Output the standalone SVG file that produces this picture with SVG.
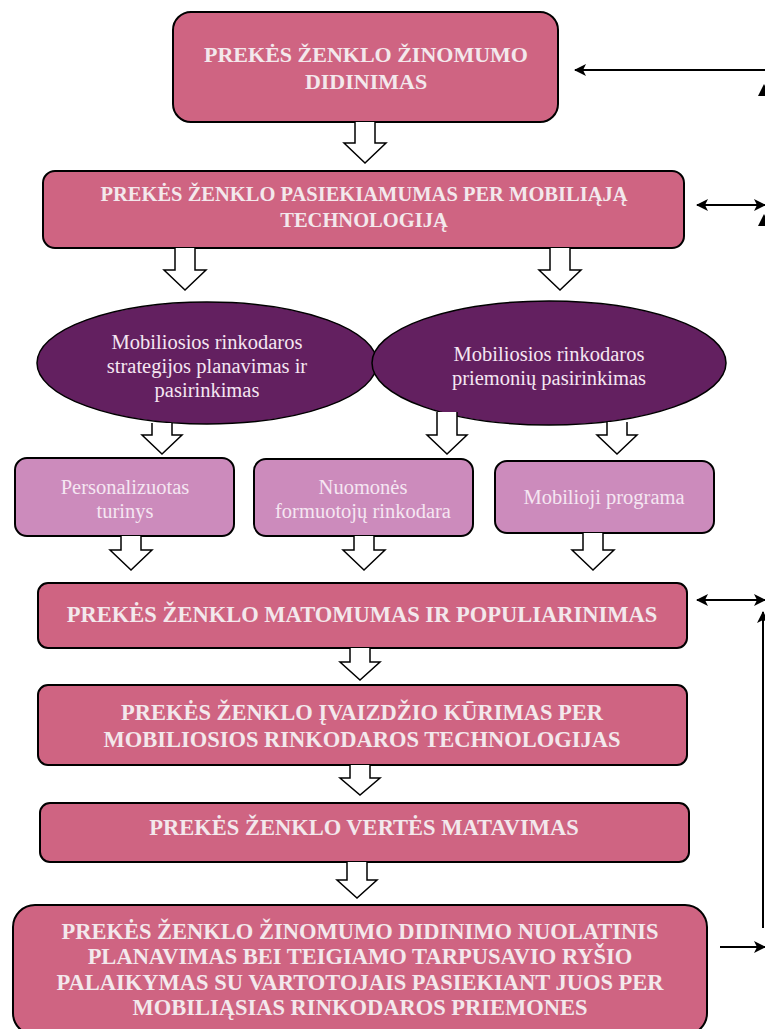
<svg xmlns="http://www.w3.org/2000/svg" width="765" height="1029" viewBox="0 0 765 1029">
<defs>
<marker id="ah" viewBox="0 0 12 12" refX="11" refY="6" markerWidth="12" markerHeight="12" markerUnits="userSpaceOnUse" orient="auto-start-reverse">
<path d="M0,0 L12,6 L0,12 L3,6 Z" fill="#000"/>
</marker>
</defs>
<style>
.main{fill:#CF6482;stroke:#000;stroke-width:2}
.sub{fill:#CC8BBC;stroke:#000;stroke-width:2}
.ell{fill:#632060;stroke:#000;stroke-width:1.5}
.bt{font-family:"Liberation Serif",serif;font-weight:bold;fill:#F3E8EC;text-anchor:middle}
.nt{font-family:"Liberation Serif",serif;fill:#F5E6F2;text-anchor:middle;font-size:20.5px}
.blk{fill:#fff;stroke:#000;stroke-width:1.5}
.ln{fill:none;stroke:#000;stroke-width:2}
</style>
<rect width="765" height="1029" fill="#fff"/>

<g id="n1">
<rect class="main" x="173" y="12" width="385" height="110" rx="18"/>
<text class="bt" font-size="22"><tspan x="366" y="62">PREKĖS ŽENKLO ŽINOMUMO</tspan><tspan x="366" y="89">DIDINIMAS</tspan></text>
</g>
<g id="n2">
<rect class="main" x="43" y="171" width="641" height="77" rx="12"/>
<text class="bt" font-size="20.5"><tspan x="364" y="201">PREKĖS ŽENKLO PASIEKIAMUMAS PER MOBILIĄJĄ</tspan><tspan x="364" y="227">TECHNOLOGIJĄ</tspan></text>
</g>
<g id="n3">
<ellipse class="ell" cx="207" cy="363" rx="170" ry="61"/>
<text class="nt"><tspan x="207" y="349">Mobiliosios rinkodaros</tspan><tspan x="207" y="373">strategijos planavimas ir</tspan><tspan x="207" y="397">pasirinkimas</tspan></text>
</g>
<g id="n4">
<ellipse class="ell" cx="549" cy="363" rx="177" ry="62"/>
<text class="nt"><tspan x="549" y="361">Mobiliosios rinkodaros</tspan><tspan x="549" y="385">priemonių pasirinkimas</tspan></text>
</g>
<g id="n5">
<rect class="sub" x="15" y="458" width="219" height="78" rx="12"/>
<text class="nt"><tspan x="125" y="494">Personalizuotas</tspan><tspan x="125" y="518">turinys</tspan></text>
</g>
<g id="n6">
<rect class="sub" x="254" y="459" width="219" height="77" rx="12"/>
<text class="nt"><tspan x="363" y="494">Nuomonės</tspan><tspan x="363" y="518">formuotojų rinkodara</tspan></text>
</g>
<g id="n7">
<rect class="sub" x="495" y="461" width="219" height="72" rx="12"/>
<text class="nt"><tspan x="604" y="504">Mobilioji programa</tspan></text>
</g>
<g id="n8">
<rect class="main" x="38" y="583" width="649" height="65" rx="10"/>
<text class="bt" font-size="22.5"><tspan x="362" y="622">PREKĖS ŽENKLO MATOMUMAS IR POPULIARINIMAS</tspan></text>
</g>
<g id="n9">
<rect class="main" x="38" y="685" width="649" height="80" rx="10"/>
<text class="bt" font-size="22.5"><tspan x="362" y="720">PREKĖS ŽENKLO ĮVAIZDŽIO KŪRIMAS PER</tspan><tspan x="362" y="747">MOBILIOSIOS RINKODAROS TECHNOLOGIJAS</tspan></text>
</g>
<g id="n10">
<rect class="main" x="40" y="803" width="649" height="59" rx="10"/>
<text class="bt" font-size="22.5"><tspan x="364" y="835">PREKĖS ŽENKLO VERTĖS MATAVIMAS</tspan></text>
</g>
<g id="n11">
<rect class="main" x="13" y="905" width="694" height="130" rx="22"/>
<text class="bt" font-size="22.5"><tspan x="360" y="939">PREKĖS ŽENKLO ŽINOMUMO DIDINIMO NUOLATINIS</tspan><tspan x="360" y="964">PLANAVIMAS BEI TEIGIAMO TARPUSAVIO RYŠIO</tspan><tspan x="360" y="990">PALAIKYMAS SU VARTOTOJAIS PASIEKIANT JUOS PER</tspan><tspan x="360" y="1015">MOBILIĄSIAS RINKODAROS PRIEMONES</tspan></text>
</g>

<g id="connectors">
<path class="blk" d="M355,122 V143 H344 L365,163 L386,143 H375 V122"/>
<path class="blk" d="M175,248 V270 H164 L185,290 L206,270 H195 V248"/>
<path class="blk" d="M550,248 V270 H539 L560,290 L581,270 H570 V248"/>
<path class="blk" d="M152,423 V435 H142 L162,454 L182,435 H172 V423"/>
<path class="blk" d="M437,412 V435 H427 L447,454 L467,435 H457 V412"/>
<path class="blk" d="M607,422 V435 H597 L617,454 L637,435 H627 V422"/>
<path class="blk" d="M121,536 V550 H110 L131,570 L152,550 H141 V536"/>
<path class="blk" d="M354,536 V550 H343 L364,570 L385,550 H374 V536"/>
<path class="blk" d="M583,533 V550 H572 L593,570 L614,550 H603 V533"/>
<path class="blk" d="M350,648 V662 H340 L360,680 L380,662 H370 V648"/>
<path class="blk" d="M350,765 V778 H340 L360,795 L380,778 H370 V765"/>
<path class="blk" d="M347,862 V880 H337 L357,898 L377,880 H367 V862"/>

<path class="ln" d="M765,70 H575" marker-end="url(#ah)"/>
<path class="ln" d="M697,205 H765" marker-start="url(#ah)" marker-end="url(#ah)"/>
<path class="ln" d="M697,600 H765" marker-start="url(#ah)" marker-end="url(#ah)"/>
<path class="ln" d="M763,928 V612" marker-end="url(#ah)"/>
<path class="ln" d="M720,947 H765" marker-end="url(#ah)"/>
<path d="M764,84 L758,96 L770,96 Z" fill="#000"/>
<path d="M764,214 L758,226 L770,226 Z" fill="#000"/>
</g>
</svg>
